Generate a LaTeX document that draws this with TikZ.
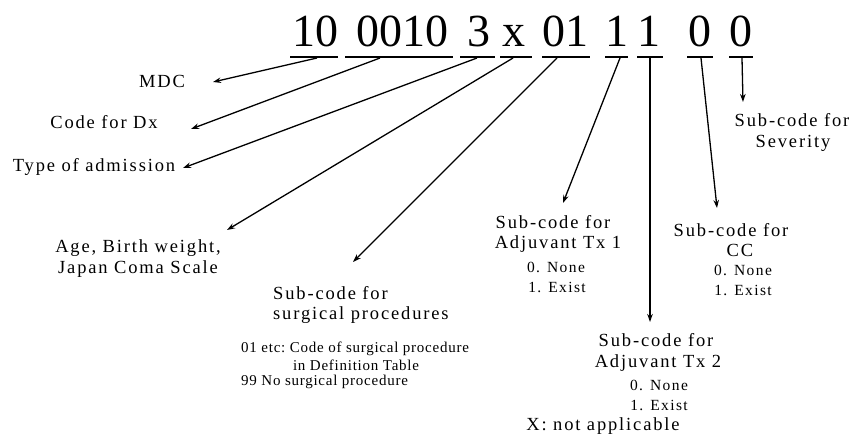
\documentclass[tikz,border=0pt]{standalone}
\usepackage{fontspec}
\setmainfont{Liberation Serif}
\newfontfamily\lbl[LetterSpace=10]{Liberation Serif}
\newfontfamily\optlbl[LetterSpace=9]{Liberation Serif}
\newfontfamily\smlbl[LetterSpace=5]{Liberation Serif}
\usetikzlibrary{arrows.meta}
\frenchspacing
\begin{document}
\begin{tikzpicture}[x=1pt,y=-1pt,
  code/.style={inner sep=0pt,anchor=base,font=\fontsize{46}{50}\selectfont},
  lab/.style={inner sep=0pt,font=\fontsize{18.5}{20}\lbl},
  opt/.style={inner sep=0pt,font=\fontsize{15.5}{17}\optlbl\nonfrenchspacing},
  note/.style={inner sep=0pt,font=\fontsize{15}{17}\smlbl},
  uline/.style={line width=1.8pt},
  arr/.style={line width=1.3pt,-{Stealth[length=8pt,width=5.5pt]}}]
\useasboundingbox (0,0) rectangle (852,434);
% code digits
\node[code] (g1) at (315,46) {10};
\node[code] (g2) at (402,46) {0010};
\node[code] (g3) at (479,46) {3};
\node[code] (g4) at (514,46) {x};
\node[code] (g5) at (565,46) {01};
\node[code] (g6) at (617,46) {1};
\node[code] (g7) at (649,46) {1};
\node[code] (g8) at (700,46) {0};
\node[code] (g9) at (741,46) {0};
% underlines
\draw[uline] (290,57) -- (338,57);
\draw[uline] (345,57) -- (453,57);
\draw[uline] (460,57) -- (495,57);
\draw[uline] (500,57) -- (532,57);
\draw[uline] (542,57) -- (590,57);
\draw[uline] (605,57) -- (628,57);
\draw[uline] (637,57) -- (663,57);
\draw[uline] (687,57) -- (713,57);
\draw[uline] (729,57) -- (753,57);
% start points
\coordinate (s1) at (317,58);
\coordinate (s2) at (380,58);
\coordinate (s3) at (477,58);
\coordinate (s4) at (513,58);
\coordinate (s5) at (557,58);
\coordinate (s6) at (620,58);
\coordinate (s7) at (650,58);
\coordinate (s8) at (701,58);
\coordinate (s9) at (742,58);
% end points
\coordinate (e1) at (213,82);
\coordinate (e2) at (191,129);
\coordinate (e3) at (183,168);
\coordinate (e4) at (227,230);
\coordinate (e5) at (353,262);
\coordinate (e6) at (563,203);
\coordinate (e7) at (650,322);
\coordinate (e8) at (717,208);
\coordinate (e9) at (743,102);
% labels
\node[lab] (mdc) at (162,81) {MDC};
\node[lab] (dx) at (104,122) {Code for Dx};
\node[lab] (adm) at (94,167) {Type of admission};
\node[lab] (age1) at (138,248) {Age, Birth weight,};
\node[lab] (age2) at (138,269) {Japan Coma Scale};
\node[lab,anchor=west] (sp1) at (273,293) {Sub-code for};
\node[lab,anchor=west] (sp2) at (273,315) {surgical procedures};
\node[note,anchor=west] (sp3) at (241,349) {01 etc: Code of surgical procedure};
\node[note] (sp4) at (356,365) {in Definition Table};
\node[note,anchor=west] (sp5) at (241,382) {99 No surgical procedure};
\node[lab] (t11) at (553,222) {Sub-code for};
\node[lab] (t12) at (558,244) {Adjuvant Tx 1};
\node[opt] (t13) at (556,267) {0. None};
\node[opt] (t14) at (557,287) {1. Exist};
\node[lab] (cc1) at (731,230) {Sub-code for};
\node[lab] (cc2) at (740,250) {CC};
\node[opt] (cc3) at (743,270) {0. None};
\node[opt] (cc4) at (743,290) {1. Exist};
\node[lab] (sv1) at (792,120) {Sub-code for};
\node[lab] (sv2) at (793,143) {Severity};
\node[lab] (t21) at (656,340) {Sub-code for};
\node[lab] (t22) at (658,363) {Adjuvant Tx 2};
\node[opt] (t23) at (659,385) {0. None};
\node[opt] (t24) at (659,405) {1. Exist};
\node[lab] (na) at (603,426) {X: not applicable};
% arrows
\draw[arr] (s1) -- (e1);
\draw[arr] (s2) -- (e2);
\draw[arr] (s3) -- (e3);
\draw[arr] (s4) -- (e4);
\draw[arr] (s5) -- (e5);
\draw[arr] (s6) -- (e6);
\draw[arr] (s7) -- (e7);
\draw[arr] (s8) -- (e8);
\draw[arr] (s9) -- (e9);
\end{tikzpicture}
\end{document}
